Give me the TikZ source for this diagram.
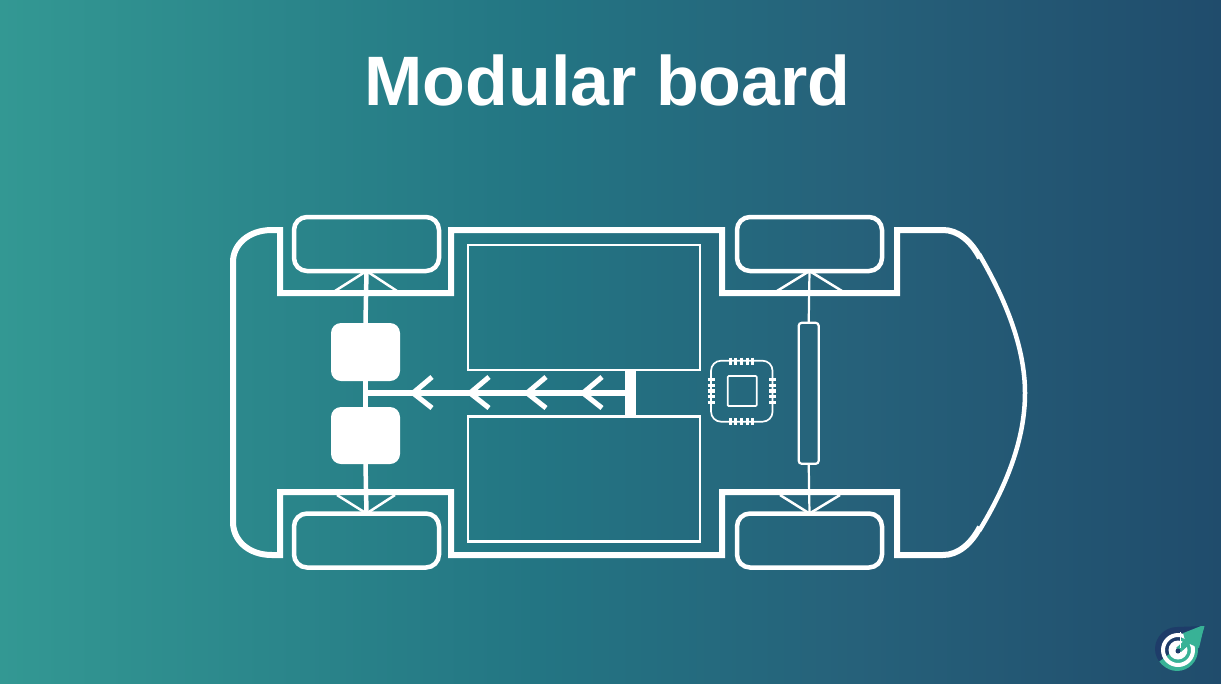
\documentclass[tikz,border=0pt]{standalone}
\usepackage{fontspec}
\setmainfont{Liberation Sans}
\definecolor{bgleft}{RGB}{51,152,147}
\definecolor{bgmid}{RGB}{35,117,131}
\definecolor{bgthree}{RGB}{38,97,122}
\definecolor{bgright}{RGB}{32,76,108}
\definecolor{logonavy}{RGB}{30,60,105}
\definecolor{logoteal}{RGB}{56,178,150}
\pgfdeclarehorizontalshading{boardbg}{100bp}{color(0bp)=(bgleft); color(25bp)=(bgleft); color(47bp)=(bgmid); color(60bp)=(bgthree); color(75bp)=(bgright); color(100bp)=(bgright)}
\tikzset{
  wheel/.style={draw=white,line width=4.5pt,rounded corners=13pt,inner sep=0pt,outer sep=0pt,minimum width=145pt,minimum height=54pt},
  motor/.style={fill=white,rounded corners=10pt,inner sep=0pt,outer sep=0pt,minimum width=69pt},
  battery/.style={draw=white,line width=2.6pt,inner sep=0pt,outer sep=0pt,minimum width=232pt},
  tube/.style={draw=white,line width=2.2pt,rounded corners=3pt,inner sep=0pt,outer sep=0pt,minimum width=20pt,minimum height=141pt},
  chipbody/.style={draw=white,line width=1.7pt,inner sep=0pt,outer sep=0pt},
  chassis/.style={draw=white,line width=6pt,miter limit=10},
  strut/.style={draw=white,line width=2.5pt},
  flow/.style={draw=white,line width=5pt},
  chippin/.style={draw=white,line width=3.2pt}
}
\begin{document}
\begin{tikzpicture}[x=1pt,y=-1pt]
  \shade[shading=boardbg] (0,0) rectangle (1221,683);
  \useasboundingbox (0,0) rectangle (1221,683);
  \node[text=white,anchor=base,font=\fontsize{70}{80}\selectfont\bfseries] (title) at (607.5,105) {Modular board};

  \draw[chassis] (980,258) .. controls (971,241) and (958,230) .. (943,230) -- (897,230) -- (897,293) -- (722,293) -- (722,230)
    -- (451,230) -- (451,293) -- (280,293) -- (280,230) -- (272,230) .. controls (248,230) and (233,245) .. (233,262)
    -- (233,522) .. controls (233,540) and (248,555) .. (272,555) -- (280,555) -- (280,492) -- (451,492) -- (451,555)
    -- (722,555) -- (722,492) -- (897,492) -- (897,555) -- (943,555) .. controls (958,555) and (971,544) .. (980,527);
  \draw[draw=white,line width=4.5pt] (979,254) .. controls (1006,300) and (1025,348) .. (1025,393)
    .. controls (1025,440) and (1006,487) .. (979,531);

  \node[wheel] (wheelTL) at (366.5,244) {};
  \node[wheel] (wheelBL) at (366.5,540.5) {};
  \node[wheel] (wheelTR) at (809.5,244) {};
  \node[wheel] (wheelBR) at (809.5,540.5) {};

  \node[motor,minimum height=58pt] (motorA) at (365.5,352) {};
  \node[motor,minimum height=57pt] (motorB) at (365.5,435.5) {};

  \node[battery,minimum height=125pt] (batteryA) at (584,307.5) {};
  \node[battery,minimum height=125pt] (batteryB) at (584,479) {};

  \node[fill=white,inner sep=0pt,outer sep=0pt,minimum width=11pt,minimum height=46pt] (bar) at (630,393) {};
  \coordinate (axleflow) at (366,393);
  \draw[flow,line width=6pt] (bar.west) -- (axleflow);
  \foreach \tipx in {413,470,527,583} {
    \draw[flow] (\tipx+19,377) -- (\tipx,393) -- (\tipx+19,408);
  }

  \draw[draw=white,line width=4.5pt] (wheelTL.south) -- (motorA.north);
  \draw[draw=white,line width=4.5pt] (motorA.south) -- (motorB.north);
  \draw[draw=white,line width=4.5pt] (motorB.south) -- (wheelBL.north);
  \coordinate (strutTLa) at (335,291);
  \coordinate (strutTLb) at (397,291);
  \coordinate (strutBLa) at (337,495);
  \coordinate (strutBLb) at (395,495);
  \draw[strut] (strutTLa) -- (wheelTL.south) -- (strutTLb);
  \draw[strut] (strutBLa) -- (wheelBL.north) -- (strutBLb);

  \node[tube] (tube) at (808.7,393.3) {};
  \draw[strut,line width=2.2pt] (wheelTR.south) -- (tube.north);
  \draw[strut,line width=2.2pt] (tube.south) -- (wheelBR.north);
  \coordinate (strutTRa) at (777,291);
  \coordinate (strutTRb) at (842,291);
  \coordinate (strutBRa) at (780,495);
  \coordinate (strutBRb) at (840,495);
  \draw[strut] (strutTRa) -- (wheelTR.south) -- (strutTRb);
  \draw[strut] (strutBRa) -- (wheelBR.north) -- (strutBRb);

  \node[chipbody,rounded corners=10pt,minimum width=61.5pt,minimum height=61pt] (chip) at (741.8,391.2) {};
  \node[chipbody,rounded corners=1pt,minimum width=29pt,minimum height=30pt] (core) at (742.2,391) {};
  \foreach \pin in {-11.2,-5.8,0,5.6,11.2} {
    \draw[chippin] (741.5+\pin,357.5) -- (741.5+\pin,364.5);
    \draw[chippin] (741.5+\pin,418) -- (741.5+\pin,425);
    \draw[chippin] (707.5,391+\pin) -- (714.5,391+\pin);
    \draw[chippin] (769,391+\pin) -- (776,391+\pin);
  }

  \begin{scope}
    \clip (1204.5,626) -- (1177,627) .. controls (1165,627) and (1155,637) .. (1155,649)
      .. controls (1155,661) and (1166,671) .. (1177,671) .. controls (1189,671) and (1198,661) .. (1198,650)
      .. controls (1198,641) and (1203,633) .. (1204.5,626) -- cycle;
    \fill[logonavy] (1150,620) rectangle (1210,675);
    \fill[logoteal] (1156,664) -- (1172,652) -- (1186,632) -- (1206,624) -- (1206,675) -- (1156,675) -- cycle;
  \end{scope}
  \draw[white,line width=4pt] (1178,650) circle (15pt);
  \fill[white] (1178,650) circle (9.5pt);
  \fill[logoteal] (1183,633) -- (1204,627) -- (1199,648) -- (1190,644) -- (1181,652) -- (1176,648) -- (1185,640) -- cycle;
  \draw[white,line width=1.5pt] (1180.5,632) -- (1180.5,648);
  \fill[logonavy] (1178,651) circle (2.5pt);
\end{tikzpicture}
\end{document}
